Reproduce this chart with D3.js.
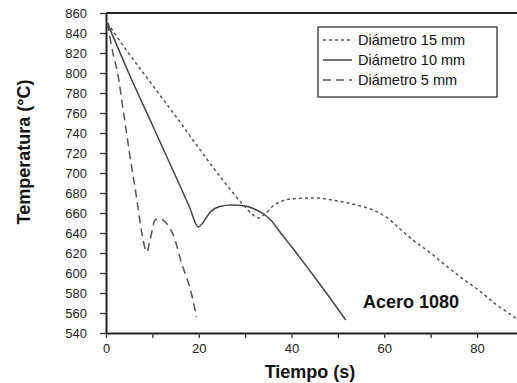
<!DOCTYPE html>
<html>
<head>
<meta charset="utf-8">
<script src="https://cdn.jsdelivr.net/npm/d3@7"></script>
<style>
  body { margin: 0; background: #fff; }
  svg { display: block; font-family: "Liberation Sans", Arial, sans-serif; }
</style>
</head>
<body>
<div id="chart"></div>
<script>
// [time (s), temperature (°C)]
const diam15 = [[0.3,850],[5,819],[10,788],[15,757],[20,725],[25,694],[29.6,668],[31.5,659],[32.8,655],
  [34.5,660],[36,667],[38,672],[41,674.5],[45,675],[50,672],[54,668],[57,664],[59,660],[61,654],[63.4,644],
  [66.2,633],[70,620],[73.4,607],[77,594],[80.6,582],[84,569],[88,556],[90,549]];
const diam10 = [[0.3,850],[5,799],[10,748],[15,697],[18,666],[19.9,646],[21,651],[22.5,661],[24.5,666.5],
  [27,668],[30,667],[32,664],[34,659],[35.5,653],[38,638],[40.4,624],[44,602],[48,577],[51.7,553]];
const diam5 = [[0.3,850],[1.5,820],[2.5,800],[3.8,760],[5,722],[6.6,675],[7.8,638],[8.8,621],[9.5,633],
  [10.6,653],[11.5,654],[13,650],[14.5,638],[16.3,610],[18.5,578],[19.5,556]];

const seriesNames = ['Diámetro 15 mm', 'Diámetro 10 mm', 'Diámetro 5 mm'];
const xTicks = [0, 10, 20, 30, 40, 50, 60, 70, 80, 90];
const yTicks = [540, 560, 580, 600, 620, 640, 660, 680, 700, 720, 740, 760, 780, 800, 820, 840, 860];

const width = 517, height = 383;
const x = d3.scaleLinear().domain([0, 90]).range([106, 106 + 90 * 4.6375]);
const y = d3.scaleLinear().domain([540, 860]).range([333, 13]);

const svg = d3.select('#chart').append('svg')
  .attr('width', width)
  .attr('height', height);

// frame top
svg.append('line')
  .attr('x1', x(0)).attr('x2', width)
  .attr('y1', y(860)).attr('y2', y(860))
  .attr('stroke', '#222').attr('stroke-width', 2);

const yAxis = svg.append('g')
  .attr('transform', `translate(${x(0)},0)`)
  .call(d3.axisLeft(y).tickValues(yTicks).tickSize(6).tickPadding(13).tickSizeOuter(0));
yAxis.select('.domain').attr('stroke', '#222').attr('stroke-width', 2);
yAxis.selectAll('.tick line').attr('stroke', '#333').attr('stroke-width', 1.3);
yAxis.selectAll('text').attr('font-size', 13).attr('fill', '#222')
  .attr('font-family', '"Liberation Sans", Arial, sans-serif');

const xAxis = svg.append('g')
  .attr('transform', `translate(0,${y(540)})`)
  .call(d3.axisBottom(x).tickValues(xTicks).tickSize(5).tickPadding(6).tickSizeOuter(0)
    .tickFormat(d => d % 20 === 0 ? d : ''));
xAxis.select('.domain').attr('stroke', '#222').attr('stroke-width', 2);
xAxis.selectAll('.tick line').attr('stroke', '#333').attr('stroke-width', 1.3);
xAxis.selectAll('text').attr('font-size', 13).attr('fill', '#222')
  .attr('font-family', '"Liberation Sans", Arial, sans-serif');

const line = d3.line()
  .x(d => x(d[0]))
  .y(d => y(d[1]))
  .curve(d3.curveMonotoneX);

const styles = [
  { data: diam15, dash: '3,3', color: '#555' },
  { data: diam10, dash: null, color: '#444' },
  { data: diam5, dash: '8,5', color: '#555' }
];

styles.forEach(s => {
  svg.append('path')
    .datum(s.data)
    .attr('fill', 'none')
    .attr('stroke', s.color)
    .attr('stroke-width', 1.5)
    .attr('stroke-dasharray', s.dash)
    .attr('d', line);
});

// legend
const legend = svg.append('g');
legend.append('rect')
  .attr('x', 318).attr('y', 27).attr('width', 179).attr('height', 70)
  .attr('fill', '#fff').attr('stroke', '#333').attr('stroke-width', 1.3);
styles.forEach((s, i) => {
  const ly = 40 + i * 20;
  legend.append('line')
    .attr('x1', 323).attr('x2', 352).attr('y1', ly).attr('y2', ly)
    .attr('stroke', s.color).attr('stroke-width', 1.5)
    .attr('stroke-dasharray', s.dash);
  legend.append('text')
    .attr('x', 358).attr('y', ly).attr('dy', '0.35em')
    .attr('font-size', 14.5).attr('fill', '#111')
    .text(seriesNames[i]);
});

svg.append('text')
  .attr('x', 363).attr('y', 308)
  .attr('font-size', 18).attr('font-weight', 'bold').attr('fill', '#111')
  .text('Acero 1080');

svg.append('text')
  .attr('x', 310).attr('y', 378)
  .attr('text-anchor', 'middle')
  .attr('font-size', 18).attr('font-weight', 'bold').attr('fill', '#111')
  .text('Tiempo (s)');

svg.append('text')
  .attr('transform', 'translate(30,152) rotate(-90)')
  .attr('text-anchor', 'middle')
  .attr('font-size', 18).attr('font-weight', 'bold').attr('fill', '#111')
  .text('Temperatura (°C)');
</script>
</body>
</html>
